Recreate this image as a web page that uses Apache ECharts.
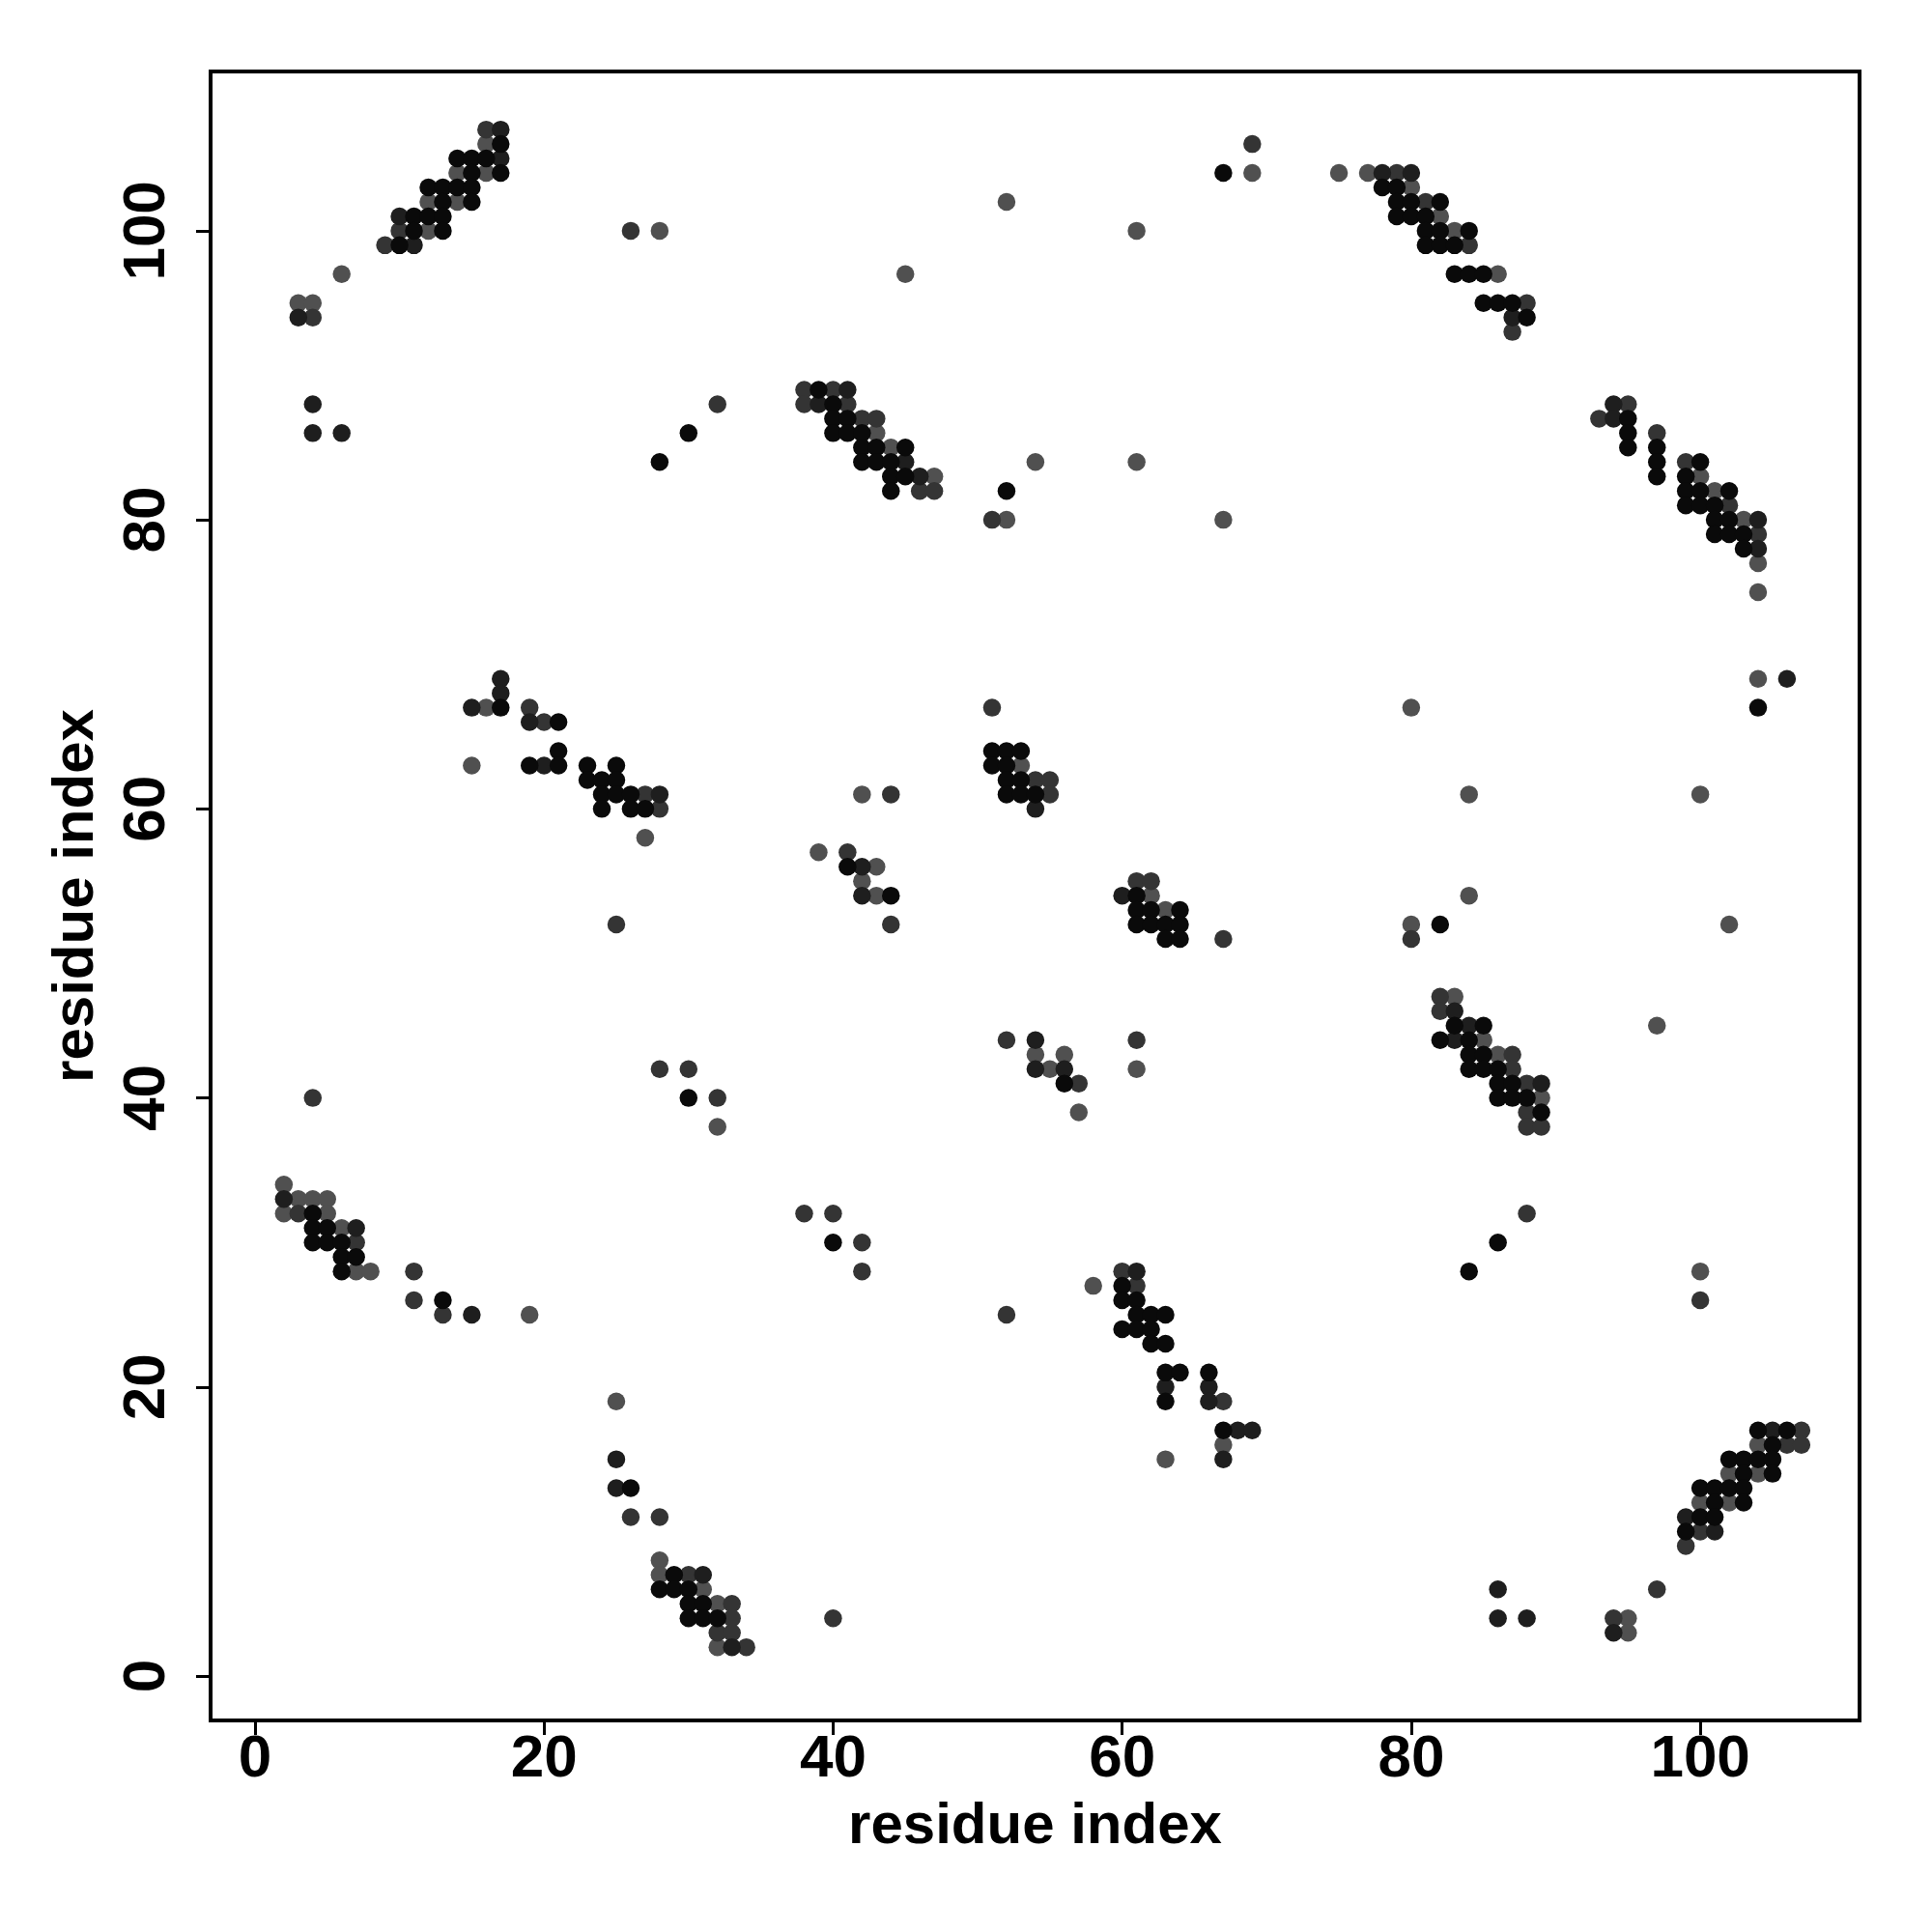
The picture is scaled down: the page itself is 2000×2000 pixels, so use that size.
<!DOCTYPE html>
<html><head><meta charset="utf-8">
<script src="https://cdn.jsdelivr.net/npm/echarts@6/dist/echarts.min.js"></script>
<style>html,body{margin:0;padding:0;background:#fff}#c{width:2000px;height:2000px}</style>
</head><body><div id="c"></div>
<script>
const tickValues = [0, 20, 40, 60, 80, 100];
const xTitle = 'residue index';
const yTitle = 'residue index';

// contacts, grouped by grey shade
const black = [[17,106],[14,105],[15,105],[16,105],[15,104],[17,104],[12,103],[13,103],[14,103],[15,103],[13,102],[15,102],[11,101],[12,101],[13,101],[11,100],[13,100],[10,99],
[30,86],[28,84],
[39,89],[40,88],[40,87],[41,87],[40,86],[41,86],[42,86],[42,85],[43,85],[45,85],[42,84],[43,84],[44,84],[44,83],[45,83],[44,82],
[52,82],[67,104],
[78,103],[79,103],[79,102],[80,102],[82,102],[79,101],[80,101],[81,101],[81,100],[82,100],[84,100],[81,99],[82,99],[83,99],[83,97],[84,97],[85,97],[85,95],[86,95],[87,95],[88,94],
[95,87],[95,86],[95,85],[97,85],[97,84],[100,84],[97,83],[99,83],[99,82],[100,82],[102,82],[99,81],[100,81],[101,81],[101,80],[102,80],[101,79],[102,79],[103,79],[103,78],
[17,67],[21,66],[21,64],[19,63],[21,63],[23,63],[25,63],[23,62],[24,62],[25,62],[24,61],[25,61],[24,60],[26,61],[26,60],[27,60],
[41,56],[44,54],
[51,64],[52,64],[53,64],[51,63],[52,63],[52,62],[53,62],[52,61],[53,61],[54,61],
[61,54],[61,53],[62,53],[64,53],[61,52],[62,52],[63,52],[64,52],[63,51],[64,51],
[82,52],[104,67],
[83,45],[85,45],[82,44],[84,44],[84,43],[85,43],[84,42],[85,42],[86,42],[86,41],[87,41],[86,40],[87,40],[88,40],[89,39],
[56,41],[30,40],
[4,32],[4,31],[5,31],[4,30],[5,30],[6,30],[6,29],[7,29],[6,28],
[13,26],[26,13],
[29,7],[28,6],[29,6],[30,6],[30,5],[31,5],[30,4],[31,4],[32,4],
[40,30],
[60,27],[60,26],[61,26],[61,25],[62,25],[63,25],[60,24],[61,24],[62,24],[62,23],[63,23],[63,21],[64,21],[66,21],[63,19],[67,17],
[86,30],[84,28],
[104,17],[106,17],[105,16],[102,15],[103,15],[104,15],[105,15],[103,14],[105,14],[100,13],[101,13],[102,13],[103,13],[101,12],[103,12],[100,11],[101,11],[99,10]];

const dark = [[17,107],[17,105],[10,101],[11,99],[3,94],[4,88],[4,86],[6,86],
[41,89],[39,88],[45,84],[46,83],
[78,104],[80,104],[87,94],
[94,88],[94,87],[104,80],[104,78],
[17,69],[17,68],[15,67],[19,66],[20,63],[28,61],
[42,56],[42,54],[54,60],[60,54],
[106,69],
[83,46],[84,45],[83,44],[89,41],
[54,44],[54,42],[56,42],
[2,33],[7,31],[15,25],[25,15],[25,13],
[31,7],[33,2],
[61,28],[63,20],[66,20],[66,19],[68,17],[69,17],[67,15],
[86,6],[86,4],[88,4],[94,3],
[105,17],[99,11],[101,10]];

const mid = [[16,107],[10,100],[9,99],[4,94],[26,100],[32,88],
[38,89],[40,89],[38,88],[41,88],[42,87],[43,87],[46,82],[47,82],
[51,80],[69,106],
[79,104],[81,102],[84,99],[88,95],[87,93],
[95,88],[93,87],[97,86],[99,84],[102,81],[104,79],
[19,67],[20,66],[27,61],[28,60],[25,52],[4,40],
[44,61],[41,57],[44,52],[51,67],
[54,62],[55,62],[55,61],
[61,55],[62,55],[67,51],[80,51],
[82,47],[82,46],[87,43],[87,42],[88,41],[88,39],[88,38],[89,38],
[52,44],[57,41],[61,44],[28,42],[30,42],[32,40],
[3,32],[7,30],[11,28],[11,26],[13,25],[26,11],[28,11],
[30,7],[33,5],[33,4],[32,3],[33,3],[34,2],[40,4],
[38,32],[40,32],[42,30],[42,28],[52,25],
[60,28],[61,27],[67,19],
[88,32],[100,26],[97,6],[94,4],
[107,17],[106,16],[107,16],[100,10],[99,9]];

const grey = [[16,106],[14,104],[16,104],[12,102],[14,102],[12,100],[6,97],[3,95],[4,95],[28,100],[52,102],[45,97],
[43,86],[44,85],[47,83],[54,84],[52,80],[69,104],[61,100],[61,84],[67,80],
[75,104],[77,104],[80,103],[82,101],[83,100],[86,97],
[100,83],[101,82],[103,80],[104,77],[104,75],
[16,67],[15,63],[27,58],
[42,61],[39,57],[43,56],[42,55],[43,54],
[53,63],[62,54],[63,53],
[80,67],[80,52],[84,61],[84,54],[100,61],[102,52],[97,45],[104,69],
[83,47],[85,44],[86,43],[89,40],
[54,43],[56,43],[55,42],[57,39],[61,42],[32,38],
[2,34],[3,33],[4,33],[5,33],[2,32],[5,32],[6,31],[7,28],[8,28],[19,25],[25,19],
[28,8],[28,7],[31,6],[32,5],[32,2],
[58,27],[67,16],[63,15],
[100,28],[95,4],[95,3],
[104,16],[102,14],[104,14],[100,12],[102,12]];

const font = '"Liberation Sans", Arial, Helvetica, sans-serif';
const chart = echarts.init(document.getElementById('c'), null, {renderer: 'canvas'});

function sc(name, data, color) {
  return {name: name, type: 'scatter', data: data, symbol: 'circle', symbolSize: 18.5,
    itemStyle: {color: color, opacity: 1}, silent: true, animation: false};
}

const axisCommon = {
  type: 'value', min: -3.07, max: 111.02,
  axisLine: {show: false, onZero: false},
  splitLine: {show: false},
  axisTick: {show: true, customValues: tickValues, length: 15, lineStyle: {color: '#000', width: 3}},
  nameLocation: 'middle',
  nameTextStyle: {fontSize: 60, fontWeight: 'bold', fontFamily: font, color: '#000'}
};

chart.setOption({
  animation: false,
  backgroundColor: '#fff',
  grid: {left: 218, top: 74, width: 1707, height: 1707, show: true, borderColor: '#000', borderWidth: 4, backgroundColor: 'transparent'},
  xAxis: Object.assign({}, axisCommon, {
    name: xTitle, nameGap: 80,
    axisLabel: {customValues: tickValues, fontSize: 62, fontWeight: 'bold', fontFamily: font, color: '#000', margin: 10}
  }),
  yAxis: Object.assign({}, axisCommon, {
    name: yTitle, nameGap: 109,
    axisLabel: {customValues: tickValues, fontSize: 62, fontWeight: 'bold', fontFamily: font, color: '#000', margin: 34, rotate: 90}
  }),
  series: [sc('grey', grey, '#505050'), sc('mid', mid, '#343434'), sc('dark', dark, '#1e1e1e'), sc('black', black, '#0a0a0a')]
});
</script></body></html>
